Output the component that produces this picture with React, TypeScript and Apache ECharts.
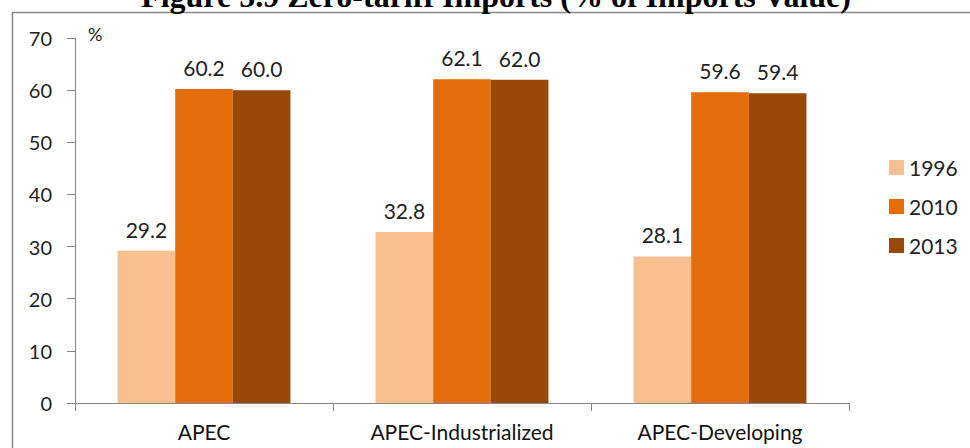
import React, { useEffect, useRef } from "react";
import * as echarts from "echarts";

const categories = ["APEC", "APEC-Industrialized", "APEC-Developing"];
const years = ["1996", "2010", "2013"];
const values1996 = [29.2, 32.8, 28.1];
const values2010 = [60.2, 62.1, 59.6];
const values2013 = [60.0, 62.0, 59.4];
const colors = ["#F9C08F", "#E46C0A", "#984807"];
const FONT = "Lato, 'Liberation Sans', sans-serif";

export default function App() {
  const ref = useRef<HTMLDivElement>(null);
  useEffect(() => {
    if (!ref.current) return;
    const chart = echarts.init(ref.current, null, { renderer: "svg" });
    const seriesData = [values1996, values2010, values2013];
    chart.setOption({
      animation: false,
      backgroundColor: "#ffffff",
      textStyle: { fontFamily: FONT },
      graphic: [
        {
          type: "rect",
          shape: { x: 12.5, y: 12.5, width: 1000, height: 500 },
          style: { fill: "none", stroke: "#8a8a8a", lineWidth: 1.5 },
          z: 0,
        },
        {
          type: "text",
          x: 496,
          y: 12,
          style: {
            text: "Figure 5.9 Zero-tariff Imports (% of Imports Value)",
            font: "bold 32px 'Liberation Serif', 'Times New Roman', serif",
            fill: "#000",
            align: "center",
            verticalAlign: "bottom",
          },
        },
        {
          type: "text",
          x: 88,
          y: 25,
          style: { text: "%", font: `18px ${FONT}`, fill: "#222" },
        },
      ],
      legend: {
        orient: "vertical",
        left: 884,
        top: 152,
        itemWidth: 15,
        itemHeight: 15,
        itemGap: 18,
        icon: "rect",
        textStyle: { fontSize: 21, color: "#222", fontFamily: FONT },
        data: years,
      },
      grid: { left: 75, right: 121, top: 38, bottom: 45 },
      xAxis: {
        type: "category",
        data: categories,
        axisLine: { lineStyle: { color: "#868686", width: 1 } },
        axisTick: { show: true, length: 8, lineStyle: { color: "#868686" } },
        axisLabel: { fontSize: 21, color: "#111", margin: 18, fontFamily: FONT },
      },
      yAxis: {
        type: "value",
        min: 0,
        max: 70,
        interval: 10,
        axisLine: { show: true, lineStyle: { color: "#868686", width: 1 } },
        axisTick: { show: true, length: 8, lineStyle: { color: "#868686" } },
        splitLine: { show: false },
        axisLabel: { fontSize: 20, color: "#222", margin: 23, fontFamily: FONT },
      },
      series: years.map((y, i) => ({
        name: y,
        type: "bar",
        data: seriesData[i],
        barGap: "0%",
        barCategoryGap: "33%",
        itemStyle: { color: colors[i] },
        label: {
          show: true,
          position: "top",
          distance: 11,
          fontSize: 21,
          color: "#222",
          fontFamily: FONT,
          formatter: (p: any) => Number(p.value).toFixed(1),
        },
      })),
    });
    return () => chart.dispose();
  }, []);
  return (
    <div
      ref={ref}
      style={{ position: "fixed", left: 0, top: 0, width: 970, height: 448 }}
    />
  );
}
